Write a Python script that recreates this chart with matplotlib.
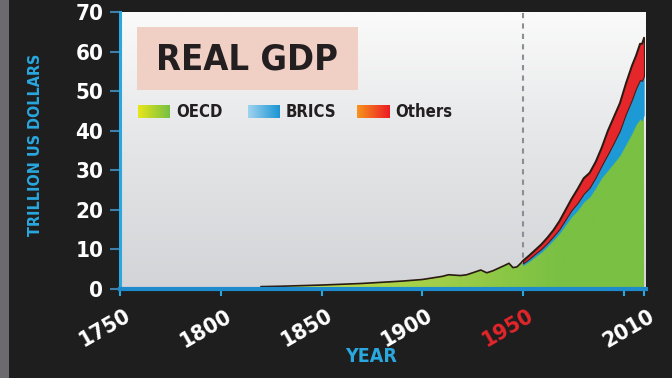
import numpy as np
import matplotlib
matplotlib.use("Agg")
import matplotlib.pyplot as plt
from matplotlib import font_manager
from matplotlib.font_manager import FontProperties
from matplotlib.colors import LinearSegmentedColormap
from matplotlib.transforms import ScaledTranslation

# world GDP before 1950 (trillion US$), drawn as one area
early_years = [1820, 1830, 1840, 1850, 1860, 1870, 1880, 1890, 1900, 1905,
               1910, 1913, 1916, 1919, 1922, 1925, 1929, 1932, 1935, 1938,
               1941, 1943, 1945, 1947, 1949]
early_total = [0.6, 0.7, 0.85, 1.0, 1.2, 1.4, 1.7, 2.0, 2.4, 2.8,
               3.2, 3.6, 3.5, 3.4, 3.6, 4.1, 4.8, 4.1, 4.6, 5.3,
               6.0, 6.5, 5.4, 5.6, 6.6]

# 1950 onwards, split by group
years = [1950, 1953, 1956, 1959, 1962, 1965, 1968, 1971, 1974, 1977, 1980,
         1983, 1986, 1989, 1992, 1995, 1998, 2001, 2004, 2006, 2008, 2009, 2010]
oecd = [6.0, 7.0, 8.2, 9.3, 10.8, 12.4, 14.1, 16.2, 18.3, 19.9, 22.0,
        23.3, 25.6, 28.2, 30.0, 31.9, 33.8, 36.6, 39.4, 41.6, 43.0, 42.6, 44.0]
brics = [0.5, 0.6, 0.7, 0.8, 0.8, 0.9, 1.0, 1.3, 1.6, 1.8, 2.0,
         2.3, 2.6, 3.0, 4.0, 5.0, 6.2, 7.6, 8.4, 9.0, 9.8, 10.0, 9.8]
others = [0.7, 0.9, 1.0, 1.2, 1.4, 1.6, 2.1, 2.5, 2.9, 3.6, 4.0,
          3.8, 4.0, 4.6, 6.0, 6.6, 7.0, 7.8, 8.7, 8.4, 9.2, 9.4, 9.7]

tick_years = [1750, 1800, 1850, 1900, 1950, 2000, 2010]
tick_text = ["1750", "1800", "1850", "1900", "1950", "", "2010"]
y_ticks = [0, 10, 20, 30, 40, 50, 60, 70]
legend_names = ["OECD", "BRICS", "Others"]


def narrow_bold():
    """Pick a condensed bold face if one is installed."""
    files = [f.fname for f in font_manager.fontManager.ttflist]
    for key in ["LiberationSansNarrow-Bold.", "DejaVuSansCondensed-Bold.",
                "OpenSans_Condensed-Bold", "OpenSans-CondensedBold",
                "Roboto_Condensed-Bold", "RobotoCondensed-Bold"]:
        for fn in files:
            if key in fn.replace(" ", ""):
                return fn
    return None


fpath = narrow_bold()


def fp(size):
    if fpath:
        return FontProperties(fname=fpath, size=size)
    return FontProperties(family="DejaVu Sans", weight="bold", size=size)


BG = "#1e1e1e"
CYAN = "#29a8df"
W, H = 672, 378

fig = plt.figure(figsize=(6.72, 3.78), dpi=100, facecolor=BG)

# grainy strip at the far left
fig.patches.append(plt.Rectangle((0, 0), 9 / W, 1, transform=fig.transFigure,
                                 facecolor="#6c6a6f", edgecolor="none"))

ax = fig.add_axes([120 / W, 1 - 289 / H, 526 / W, 277 / H])
ax.set_facecolor("#e6e7e9")

# vertical background gradient
bg_cmap = LinearSegmentedColormap.from_list("bg", ["#d3d4d7", "#e4e5e7", "#fafafa"])
ax.imshow(np.linspace(0, 1, 200).reshape(-1, 1), extent=[1750, 2011, 0, 70],
          origin="lower", aspect="auto", cmap=bg_cmap, zorder=0)

# OECD (and everything before 1950) with a left-to-right green gradient
x_all = np.array(early_years + years, dtype=float)
green_top = np.array(early_total + oecd, dtype=float)
poly = ax.fill_between(x_all, 0, green_top, facecolor="none", edgecolor="none")
green_cmap = LinearSegmentedColormap.from_list("g", ["#c4dc46", "#a2cf49", "#79c043"])
grad = np.clip((np.linspace(1750, 2011, 300) - 1840) / 130, 0, 1).reshape(1, -1)
img = ax.imshow(grad, extent=[1750, 2011, 0, 70], aspect="auto",
                cmap=green_cmap, zorder=2)
img.set_clip_path(poly.get_paths()[0], ax.transData)

oecd_a = np.array(oecd)
brics_top = oecd_a + np.array(brics)
total = brics_top + np.array(others)
ax.fill_between(years, oecd_a, brics_top, facecolor="#1d9ad6",
                edgecolor="#1d9ad6", lw=0.3, zorder=3)
ax.fill_between(years, brics_top, total, facecolor="#e5262a",
                edgecolor="#4a1a14", lw=0.8, zorder=4)

# dark outline along the top of the series
ax.plot(early_years + years, early_total + list(total), color="#2a1a12",
        lw=1.2, zorder=5)

ax.axvline(1950, color="#8b8e93", lw=1.5, ls=(0, (2.5, 2.5)), zorder=1)

ax.set_xlim(1750, 2011)
ax.set_ylim(0, 70)

for side in ["top", "right"]:
    ax.spines[side].set_visible(False)
ax.spines["left"].set_color(CYAN)
ax.spines["left"].set_linewidth(2.2)
ax.spines["bottom"].set_color("#1e8bcc")
ax.spines["bottom"].set_linewidth(3)
ax.spines["left"].set_zorder(6)
ax.spines["bottom"].set_zorder(7)

ax.set_yticks(y_ticks)
ax.set_yticklabels([str(v) for v in y_ticks])
ax.tick_params(axis="y", colors="#3f7ea8", length=7, width=1.5, pad=5,
               labelcolor="white")
for lab in ax.get_yticklabels():
    lab.set_fontproperties(fp(16))

ax.set_xticks(tick_years)
ax.set_xticklabels(tick_text)
ax.tick_params(axis="x", colors=CYAN, length=5, width=1.5, pad=7,
               labelcolor="white")
shift = ScaledTranslation(-15 / 100, 0, fig.dpi_scale_trans)
for lab in ax.get_xticklabels():
    lab.set_fontproperties(fp(16))
    lab.set_rotation(30)
    lab.set_ha("center")
    lab.set_va("top")
    lab.set_transform(lab.get_transform() + shift)
    if lab.get_text() == "1950":
        lab.set_color("#e3262b")

fig.text(371 / W, 1 - 357 / H, "YEAR", color=CYAN, fontproperties=fp(14),
         ha="center", va="center")
fig.text(36 / W, 1 - 145 / H, "TRILLION US DOLLARS", color=CYAN,
         fontproperties=fp(11.5), rotation=90, ha="center", va="center")

# title box
fig.patches.append(plt.Rectangle((137 / W, 1 - 90 / H), 221 / W, 63 / H,
                                 transform=fig.transFigure,
                                 facecolor="#f0cfc4", edgecolor="none", zorder=3))
fig.text(247 / W, 1 - 59 / H, "REAL GDP", color="#231f20", fontproperties=fp(26),
         ha="center", va="center", zorder=4)

# legend with gradient swatches
swatches = [("#e8e619", "#76c043"), ("#9fd3ef", "#1a95d4"), ("#f7941d", "#ec1c24")]
swatch_x = [138, 248, 357]
for name, (c0, c1), x0 in zip(legend_names, swatches, swatch_x):
    sax = fig.add_axes([x0 / W, 1 - 118 / H, 32 / W, 13 / H])
    cm = LinearSegmentedColormap.from_list(name, [c0, c1])
    sax.imshow(np.linspace(0, 1, 64).reshape(1, -1), aspect="auto", cmap=cm)
    sax.axis("off")
    fig.text((x0 + 38) / W, 1 - 112 / H, name, color="#231f20",
             fontproperties=fp(12), ha="left", va="center")

fig.savefig("out.png", dpi=100, facecolor=BG)
